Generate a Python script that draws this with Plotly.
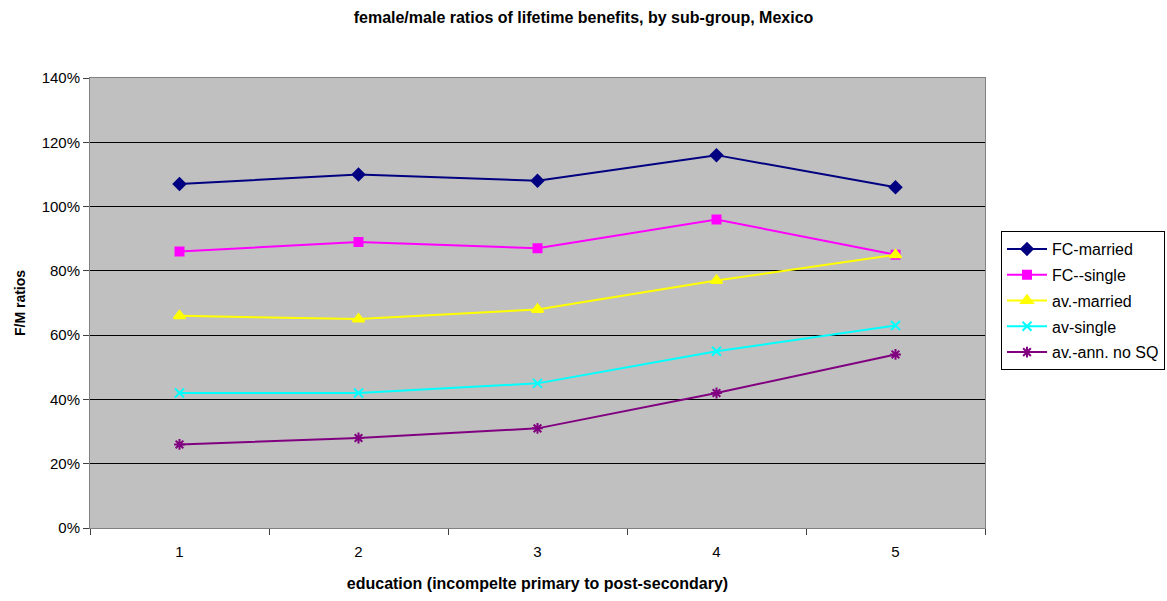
import plotly.graph_objects as go

# Education levels (1 = incomplete primary ... 5 = post-secondary)
education = [1, 2, 3, 4, 5]

# Female/male ratios of lifetime benefits, in percent
fc_married = [107, 110, 108, 116, 106]
fc_single = [86, 89, 87, 96, 85]
av_married = [66, 65, 68, 77, 85]
av_single = [42, 42, 45, 55, 63]
av_ann_no_sq = [26, 28, 31, 42, 54]

y_ticks = [0, 20, 40, 60, 80, 100, 120, 140]
y_tick_labels = [f"{v}%" for v in y_ticks]

series = [
    ("FC-married", fc_married, "#000080", "diamond", 9),
    ("FC--single", fc_single, "#FF00FF", "square", 8),
    ("av.-married", av_married, "#FFFF00", "triangle-up", 10),
    ("av-single", av_single, "#00FFFF", "x-thin-open", 9),
    ("av.-ann. no SQ", av_ann_no_sq, "#800080", "asterisk-open", 9),
]

fig = go.Figure()
for name, vals, color, symbol, size in series:
    fig.add_trace(go.Scatter(
        x=education, y=vals, name=name, mode="lines+markers",
        legendgroup=name,
        line=dict(color=color, width=2),
        marker=dict(symbol=symbol, size=size, color=color,
                    line=dict(color=color, width=2)),
    ))

font_family = "Liberation Sans, Arial, sans-serif"

L, R, T, B = 90, 182, 78, 73
W, H = 1167, 601
plot_w = W - L - R
plot_h = H - T - B

fig.update_layout(
    width=W, height=H,
    margin=dict(l=L, r=R, t=T, b=B, autoexpand=False),
    paper_bgcolor="white",
    plot_bgcolor="#C0C0C0",
    font=dict(family=font_family, size=15, color="black"),
    showlegend=True,
    title=dict(
        text="<b>female/male ratios of lifetime benefits, by sub-group, Mexico</b>",
        x=0.5, xref="container", xanchor="center",
        y=1 - 17 / H, yref="container", yanchor="middle",
        font=dict(size=16, family=font_family),
    ),
    legend=dict(
        x=(1001 - L) / plot_w,
        y=1 - (231 - T) / plot_h,
        xanchor="left", yanchor="top",
        xref="paper", yref="paper",
        bgcolor="white", bordercolor="black", borderwidth=1,
        font=dict(size=16, family=font_family),
        tracegroupgap=2, itemwidth=40,
    ),
)

fig.update_xaxes(
    range=[0.5, 5.5],
    tickmode="array", tickvals=education, ticktext=[str(v) for v in education],
    ticks="", showgrid=False, zeroline=False,
    showline=True, linecolor="#808080", linewidth=1, mirror=True,
    minor=dict(tick0=0.5, dtick=1, ticks="outside", ticklen=6,
               tickcolor="#404040", showgrid=False),
    ticklabelstandoff=10,
    title=dict(text="<b>education (incompelte primary to post-secondary)</b>",
               font=dict(size=16), standoff=18),
    tickfont=dict(size=15),
)
fig.update_yaxes(
    range=[0, 140],
    tickmode="array", tickvals=y_ticks, ticktext=y_tick_labels,
    ticks="outside", ticklen=6, tickcolor="#404040",
    showgrid=True, gridcolor="black", gridwidth=1, zeroline=False,
    showline=True, linecolor="#808080", linewidth=1, mirror=True,
    title=dict(text="<b>F/M ratios</b>", font=dict(size=14), standoff=12),
    tickfont=dict(size=15),
)

fig.write_html("out.html")
